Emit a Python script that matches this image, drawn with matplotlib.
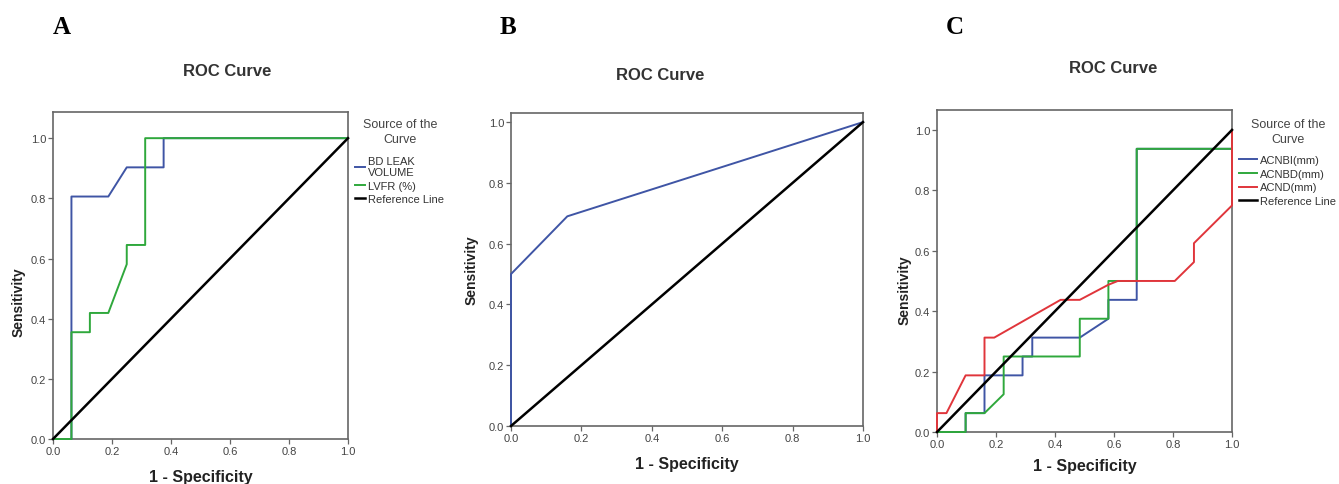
import matplotlib
matplotlib.use("Agg")
import matplotlib.pyplot as plt
from matplotlib.ticker import FormatStrFormatter

plt.rcParams['font.family'] = ['Liberation Sans', 'DejaVu Sans']

# Panel A: BD leak volume vs LVFR
a_bd_fpr = [0, 0.0625, 0.0625, 0.1875, 0.25, 0.375, 0.375, 1.0]
a_bd_tpr = [0, 0, 0.806, 0.806, 0.903, 0.903, 1.0, 1.0]
a_lvfr_fpr = [0, 0.0625, 0.0625, 0.125, 0.125, 0.1875, 0.25, 0.25, 0.3125, 0.3125, 1.0]
a_lvfr_tpr = [0, 0, 0.355, 0.355, 0.419, 0.419, 0.581, 0.645, 0.645, 1.0, 1.0]

# Panel B: single curve
b_fpr = [0, 0, 0.16, 1.0]
b_tpr = [0, 0.5, 0.69, 1.0]

# Panel C: three distances
c_bi_fpr = [0, 0.097, 0.097, 0.161, 0.161, 0.290, 0.290, 0.323, 0.323, 0.484, 0.581, 0.581, 0.677, 0.677, 1.0, 1.0]
c_bi_tpr = [0, 0, 0.0625, 0.0625, 0.1875, 0.1875, 0.25, 0.25, 0.3125, 0.3125, 0.375, 0.4375, 0.4375, 0.9375, 0.9375, 1.0]
c_bd_fpr = [0, 0.097, 0.097, 0.161, 0.226, 0.226, 0.484, 0.484, 0.581, 0.581, 0.677, 0.677, 1.0, 1.0]
c_bd_tpr = [0, 0, 0.0625, 0.0625, 0.125, 0.25, 0.25, 0.375, 0.375, 0.5, 0.5, 0.9375, 0.9375, 1.0]
c_nd_fpr = [0, 0, 0.032, 0.097, 0.161, 0.161, 0.194, 0.419, 0.484, 0.581, 0.613, 0.806, 0.871, 0.871, 1.0, 1.0]
c_nd_tpr = [0, 0.0625, 0.0625, 0.1875, 0.1875, 0.3125, 0.3125, 0.4375, 0.4375, 0.4875, 0.5, 0.5, 0.5625, 0.625, 0.75, 1.0]

ref_line = [0, 1]

BLUE = '#3f55a5'
GREEN = '#2fa83c'
RED = '#e0353b'
SPINE = '#666666'

fig = plt.figure(figsize=(13.39, 4.85), dpi=100)


def style_axes(ax, ytop):
    ax.set_xlim(0, 1)
    ax.set_ylim(0, ytop)
    ax.set_xticks([0, 0.2, 0.4, 0.6, 0.8, 1.0])
    ax.set_yticks([0, 0.2, 0.4, 0.6, 0.8, 1.0])
    ax.xaxis.set_major_formatter(FormatStrFormatter('%.1f'))
    ax.yaxis.set_major_formatter(FormatStrFormatter('%.1f'))
    ax.tick_params(direction='out', length=3.5, width=0.9, colors=SPINE,
                   labelsize=8, labelcolor='#444444', pad=1.5)
    for s in ax.spines.values():
        s.set_color(SPINE)
        s.set_linewidth(1.2)
    ax.set_xlabel('1 - Specificity', fontsize=11.5, fontweight='bold', color='#222222')
    ax.set_ylabel('Sensitivity', fontsize=10, fontweight='bold', color='#222222')


def legend_block(ax, tx, ty, ly, hlen, spacing):
    # legend title drawn as its own text so the gap to the entries can be set
    ax.text(tx, ty, 'Source of the\nCurve', transform=ax.transAxes, ha='center',
            va='center', fontsize=9, color='#444444', multialignment='center',
            linespacing=1.25)
    leg = ax.legend(loc='upper left', bbox_to_anchor=(1.024, ly), frameon=False,
                    fontsize=8, handlelength=hlen, handletextpad=0.25, borderpad=0,
                    borderaxespad=0, labelspacing=spacing)
    for t in leg.get_texts():
        t.set_color('#333333')
    return leg


# ---- A ----
axA = fig.add_axes([53/1339, 1-440/485, 295/1339, 327/485])
axA.plot(a_bd_fpr, a_bd_tpr, color=BLUE, lw=1.4, label='BD LEAK\nVOLUME', clip_on=False, zorder=3)
axA.plot(a_lvfr_fpr, a_lvfr_tpr, color=GREEN, lw=1.4, label='LVFR (%)', clip_on=False, zorder=3)
axA.plot(ref_line, ref_line, color='black', lw=1.8, label='Reference Line', clip_on=False, zorder=3)
style_axes(axA, 1.087)
axA.xaxis.set_label_coords(0.5, -0.092)
axA.yaxis.set_label_coords(-0.094, 0.42)
legend_block(axA, 1.176, 0.940, 0.866, 0.9, 0.3)

# ---- B ----
axB = fig.add_axes([511/1339, 1-427/485, 352/1339, 313/485])
axB.plot(b_fpr, b_tpr, color=BLUE, lw=1.4, clip_on=False, zorder=3)
axB.plot(ref_line, ref_line, color='black', lw=1.8, clip_on=False, zorder=3)
style_axes(axB, 1.03)
axB.xaxis.set_label_coords(0.5, -0.096)
axB.yaxis.set_label_coords(-0.093, 0.5)

# ---- C ----
axC = fig.add_axes([937/1339, 1-433/485, 295/1339, 322/485])
axC.plot(c_bi_fpr, c_bi_tpr, color=BLUE, lw=1.4, label='ACNBI(mm)', clip_on=False, zorder=3)
axC.plot(c_bd_fpr, c_bd_tpr, color=GREEN, lw=1.4, label='ACNBD(mm)', clip_on=False, zorder=3)
axC.plot(c_nd_fpr, c_nd_tpr, color=RED, lw=1.4, label='ACND(mm)', clip_on=False, zorder=3)
axC.plot(ref_line, ref_line, color='black', lw=1.8, label='Reference Line', clip_on=False, zorder=3)
style_axes(axC, 1.066)
axC.xaxis.set_label_coords(0.5, -0.081)
axC.yaxis.set_label_coords(-0.085, 0.444)
legend_block(axC, 1.19, 0.933, 0.86, 1.6, 0.33)

# titles and panel letters
for x, y in [(227, 72), (660, 75), (1113, 69)]:
    fig.text(x/1339, 1-y/485, 'ROC Curve', ha='center', va='center',
             fontsize=12, fontweight='bold', color='#333333')
for x, letter in [(62, 'A'), (508, 'B'), (955, 'C')]:
    fig.text(x/1339, 1-28/485, letter, ha='center', va='center', fontsize=18,
             fontweight='bold', family=['Liberation Serif', 'DejaVu Serif'])

fig.savefig('out.png', dpi=100)
